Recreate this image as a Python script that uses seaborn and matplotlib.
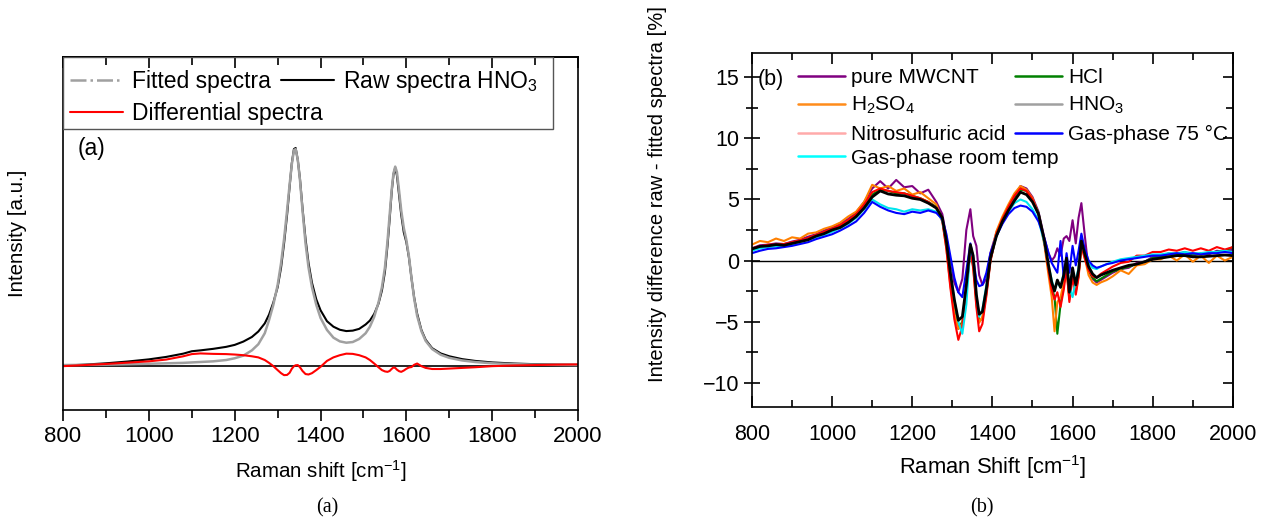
import matplotlib
matplotlib.use("Agg")
import matplotlib.pyplot as plt
from matplotlib.lines import Line2D
from matplotlib.patches import Rectangle
from matplotlib.ticker import MultipleLocator, NullLocator
import seaborn as sns

# ---- panel (a): fitted vs raw HNO3 spectrum (normalised to D band) ----
shift_a = [800, 850, 900, 950, 1000, 1040, 1080, 1100, 1120, 1150,
           1180, 1200, 1220, 1240, 1255, 1270, 1280, 1290, 1300, 1308,
           1315, 1322, 1328, 1333, 1338, 1342, 1347, 1352, 1358, 1365,
           1372, 1380, 1390, 1400, 1415, 1430, 1445, 1460, 1475, 1490,
           1505, 1515, 1525, 1535, 1543, 1550, 1556, 1561, 1566, 1570,
           1574, 1578, 1583, 1588, 1594, 1600, 1606, 1612, 1618, 1625,
           1635, 1645, 1660, 1680, 1700, 1730, 1760, 1800, 1850, 1900,
           1950, 2000]
fitted = [0.005, 0.006, 0.007, 0.009, 0.011, 0.013, 0.015, 0.017, 0.019, 0.022,
          0.028, 0.036, 0.048, 0.072, 0.10, 0.15, 0.21, 0.28, 0.37, 0.47,
          0.58, 0.71, 0.83, 0.92, 0.985, 0.99, 0.94, 0.85, 0.71, 0.56,
          0.45, 0.36, 0.28, 0.22, 0.165, 0.13, 0.113, 0.107, 0.11, 0.124,
          0.15, 0.18, 0.225, 0.29, 0.36, 0.45, 0.57, 0.69, 0.81, 0.88,
          0.91, 0.885, 0.80, 0.71, 0.63, 0.575, 0.50, 0.40, 0.31, 0.23,
          0.16, 0.115, 0.078, 0.052, 0.038, 0.026, 0.019, 0.013, 0.009, 0.007,
          0.006, 0.005]
raw_hno3 = [0.002, 0.007, 0.013, 0.021, 0.031, 0.042, 0.057, 0.068, 0.072, 0.079,
            0.088, 0.097, 0.112, 0.133, 0.158, 0.195, 0.235, 0.29, 0.36, 0.45,
            0.56, 0.69, 0.82, 0.925, 0.99, 0.995, 0.94, 0.855, 0.72, 0.58,
            0.47, 0.38, 0.305, 0.255, 0.205, 0.18, 0.166, 0.16, 0.162, 0.17,
            0.19, 0.208, 0.238, 0.285, 0.345, 0.43, 0.55, 0.67, 0.80, 0.875,
            0.905, 0.87, 0.78, 0.69, 0.61, 0.565, 0.495, 0.40, 0.315, 0.24,
            0.165, 0.12, 0.082, 0.058, 0.045, 0.032, 0.024, 0.017, 0.012, 0.009,
            0.007, 0.006]
differential = [0.0, 0.005, 0.01, 0.016, 0.022, 0.03, 0.045, 0.055, 0.058, 0.056,
                0.055, 0.053, 0.05, 0.045, 0.04, 0.028, 0.015, 0.0, -0.018, -0.032,
                -0.041, -0.04, -0.03, -0.012, 0.0, 0.004, 0.005, -0.005, -0.022, -0.036,
                -0.038, -0.032, -0.018, -0.003, 0.024, 0.04, 0.05, 0.057, 0.056, 0.05,
                0.04, 0.028, 0.012, -0.005, -0.018, -0.024, -0.026, -0.022, -0.012, -0.006,
                -0.008, -0.016, -0.023, -0.026, -0.02, -0.012, -0.006, -0.004, 0.006, 0.012,
                0.0, -0.008, -0.013, -0.013, -0.011, -0.008, -0.005, 0.0, 0.003, 0.005,
                0.007, 0.008]

# ---- panel (b): raw - fitted difference [%] per treatment ----
shift_b = [800, 820, 840, 860, 880, 900, 920, 940, 960, 980, 1000, 1020,
           1040, 1060, 1080, 1100, 1120, 1140, 1160, 1180, 1200, 1220, 1240, 1260,
           1275, 1285, 1295, 1305, 1315, 1325, 1335, 1345, 1352, 1360, 1367, 1375, 1385, 1395,
           1410, 1425, 1440, 1455, 1470, 1485, 1500, 1515, 1530,
           1540, 1548, 1555, 1562, 1570, 1578, 1585, 1592, 1600, 1608, 1615, 1622, 1630,
           1640, 1650, 1660, 1670, 1685,
           1700, 1720, 1740, 1760, 1780, 1800, 1820, 1840, 1860, 1880, 1900, 1920,
           1940, 1960, 1980, 2000]
pure_mwcnt = [1.0, 1.25, 1.3, 1.4, 1.35, 1.55, 1.7, 1.95, 2.15, 2.45, 2.7, 3.05,
              3.4, 3.95, 4.8, 5.9, 6.5, 5.9, 6.6, 6.0, 6.1, 5.5, 5.8, 4.8,
              3.8, 2.0, -0.4, -1.8, -2.6, -1.5, 2.5, 4.2, 2.0, 1.2, -1.2, -2.0, -1.5, 0.6,
              2.3, 3.4, 4.4, 5.3, 6.1, 5.9, 5.2, 4.0, 1.8,
              0.6, 0.0, 0.3, 1.0, 0.4, 1.8, 2.0, 1.6, 3.3, 1.4, 3.5, 4.7, 2.2,
              -0.8, -1.5, -1.8, -1.6, -1.3,
              -1.0, -0.7, -0.6, -0.2, -0.1, 0.3, 0.3, 0.6, 0.5, 0.7, 0.4, 0.6,
              0.5, 0.8, 0.7, 0.9]
hcl = [0.9, 1.05, 1.2, 1.3, 1.3, 1.45, 1.6, 1.8, 2.05, 2.3, 2.55, 2.85,
       3.25, 3.8, 4.5, 5.4, 5.8, 5.7, 5.5, 5.5, 5.3, 5.1, 4.8, 4.4,
       3.4, 1.3, -1.5, -4.0, -5.6, -5.0, -2.5, 1.0, 0.0, -3.2, -4.9, -4.8, -2.7, 0.0,
       2.1, 3.4, 4.3, 5.2, 5.8, 5.7, 5.0, 3.9, 1.5,
       -0.6, -2.2, -3.0, -6.0, -3.6, -2.0, -0.5, -3.0, -1.0, -2.5, -1.2, 1.4, 0.5,
       -0.8, -1.4, -1.7, -1.5, -1.2,
       -0.9, -0.7, -0.5, -0.3, -0.1, 0.2, 0.3, 0.4, 0.5, 0.5, 0.5, 0.5,
       0.6, 0.7, 0.8, 1.1]
h2so4 = [1.3, 1.6, 1.5, 1.8, 1.6, 1.9, 1.8, 2.2, 2.3, 2.6, 2.8, 3.1,
         3.6, 4.0, 4.8, 6.2, 5.9, 6.1, 5.7, 5.9, 5.4, 5.6, 5.1, 4.6,
         3.3, 1.0, -2.0, -4.3, -5.6, -5.2, -2.2, 0.9, -0.5, -3.6, -5.1, -4.6, -2.6, 0.2,
         2.4, 3.6, 4.6, 5.5, 6.1, 5.8, 5.1, 3.8, 1.2,
         -1.2, -3.0, -5.8, -3.4, -3.0, -1.8, -0.8, -3.2, -1.2, -2.6, -1.2, 1.2, 0.3,
         -1.2, -1.8, -2.0, -1.8, -1.6,
         -1.3, -0.8, -1.1, -0.4, -0.3, 0.1, 0.1, 0.4, 0.0, 0.5, -0.1, 0.4,
         -0.2, 0.4, 0.0, 0.3]
hno3 = [0.95, 1.15, 1.2, 1.3, 1.25, 1.4, 1.55, 1.7, 2.0, 2.2, 2.5, 2.7,
        3.1, 3.6, 4.3, 5.2, 5.7, 5.45, 5.35, 5.3, 5.1, 5.0, 4.7, 4.3,
        3.5, 1.6, -1.0, -3.2, -4.9, -4.6, -2.0, 1.3, 0.4, -2.8, -4.4, -4.2, -2.3, 0.2,
        2.0, 3.2, 4.1, 4.9, 5.6, 5.4, 4.8, 3.8, 1.6,
        -0.4, -1.8, -2.5, -1.6, -2.2, -1.2, 0.2, -2.6, -0.6, -2.0, -0.8, 1.6, 0.6,
        -0.5, -1.1, -1.4, -1.2, -1.0,
        -0.8, -0.6, -0.4, -0.3, -0.1, 0.1, 0.2, 0.3, 0.4, 0.4, 0.3, 0.3,
        0.35, 0.4, 0.45, 0.4]
nitrosulfuric = [1.0, 1.15, 1.3, 1.3, 1.35, 1.5, 1.65, 1.85, 2.1, 2.35, 2.6, 2.9,
                 3.3, 3.8, 4.6, 5.6, 5.9, 5.7, 5.6, 5.5, 5.3, 5.1, 4.8, 4.3,
                 3.2, 1.0, -2.2, -4.8, -6.5, -5.4, -2.4, 0.8, -0.6, -3.8, -5.8, -5.2, -2.9, -0.1,
                 2.2, 3.4, 4.4, 5.3, 5.9, 5.7, 5.0, 3.8, 1.4,
                 -0.8, -2.4, -3.2, -2.6, -3.8, -2.4, -0.6, -3.4, -1.4, -2.8, -1.4, 1.2, 0.2,
                 -0.8, -1.3, -1.4, -1.1, -0.8,
                 -0.5, -0.2, -0.1, 0.4, 0.4, 0.7, 0.7, 0.9, 0.8, 1.0, 0.8, 1.0,
                 0.8, 1.1, 0.9, 1.1]
gas_75c = [0.6, 0.8, 0.95, 1.0, 1.1, 1.2, 1.35, 1.5, 1.75, 1.95, 2.15, 2.45,
           2.8, 3.2, 3.9, 4.8, 4.4, 4.1, 3.9, 3.8, 4.0, 3.9, 4.1, 3.9,
           3.4, 2.2, 0.4, -1.4, -2.6, -3.0, -0.8, 1.4, 0.2, -1.6, -2.1, -2.0, -1.0, 0.6,
           2.0, 3.0, 3.8, 4.3, 4.5, 4.4, 4.0, 3.2, 1.8,
           0.6, -0.2, -0.6, -1.0, 1.6, -1.4, 0.6, -1.0, 1.2, -0.4, 0.8, 2.2, 1.0,
           0.0, -0.4, -0.6, -0.5, -0.3,
           -0.2, 0.0, 0.1, 0.2, 0.3, 0.4, 0.4, 0.5, 0.6, 0.5, 0.6, 0.5,
           0.6, 0.6, 0.7, 0.6]
gas_room = [0.8, 1.0, 1.1, 1.15, 1.2, 1.3, 1.5, 1.7, 1.9, 2.1, 2.35, 2.65,
            3.0, 3.5, 4.2, 5.0, 4.6, 4.3, 4.2, 4.0, 4.2, 4.1, 4.2, 4.0,
            3.3, 1.6, -0.8, -3.2, -5.0, -6.0, -3.6, 1.2, 0.3, -2.8, -4.6, -4.0, -2.0, 0.3,
            2.0, 3.1, 4.0, 4.7, 5.0, 4.8, 4.2, 3.3, 1.4,
            -0.4, -1.6, -2.4, -1.8, -2.2, -1.0, 0.0, -2.2, -3.0, -1.6, -0.6, 1.6, 0.6,
            -0.2, -0.6, -0.7, -0.5, -0.3,
            -0.1, 0.1, 0.2, 0.3, 0.4, 0.5, 0.5, 0.6, 0.6, 0.7, 0.6, 0.6,
            0.7, 0.7, 0.8, 0.7]

sns.set_theme(style="ticks")
plt.rcParams['font.family'] = ['Liberation Sans', 'DejaVu Sans']
plt.rcParams['mathtext.fontset'] = 'custom'
plt.rcParams['mathtext.rm'] = 'Liberation Sans'
plt.rcParams['mathtext.default'] = 'regular'
plt.rcParams['axes.linewidth'] = 1.2
for k in ['text.color', 'axes.labelcolor', 'xtick.color', 'ytick.color', 'axes.edgecolor']:
    plt.rcParams[k] = 'black'

fig = plt.figure(figsize=(12.61, 5.19), dpi=100)
ax1 = fig.add_axes([0.0500, 0.2100, 0.4084, 0.6802])
ax2 = fig.add_axes([0.5963, 0.2158, 0.3814, 0.6821])

# ---------- (a) ----------
ax1.axhline(0, color='black', lw=1.2, zorder=1)
sns.lineplot(x=shift_a, y=raw_hno3, ax=ax1, color='black', lw=1.5, sort=False, estimator=None)
sns.lineplot(x=shift_a, y=fitted, ax=ax1, color='#a0a0a0', lw=1.8, sort=False, estimator=None)
sns.lineplot(x=shift_a, y=differential, ax=ax1, color='#ff0000', lw=1.5, sort=False, estimator=None)

ax1.set_xlim(800, 2000)
ax1.set_ylim(-0.2, 1.41)
ax1.xaxis.set_major_locator(MultipleLocator(200))
ax1.xaxis.set_minor_locator(MultipleLocator(100))
ax1.yaxis.set_major_locator(NullLocator())
ax1.tick_params(axis='x', which='both', direction='out', labelsize=16)
ax1.tick_params(axis='x', which='major', length=8, width=1.2)
ax1.tick_params(axis='x', which='minor', length=6, width=1.2)
top1 = ax1.secondary_xaxis('top')
top1.xaxis.set_major_locator(MultipleLocator(200))
top1.xaxis.set_minor_locator(MultipleLocator(100))
top1.tick_params(which='both', direction='in', labeltop=False, width=1.2)
top1.tick_params(which='major', length=8)
top1.tick_params(which='minor', length=6)
ax1.set_xlabel('Raman shift [cm$^{-1}$]', fontsize=14.8, labelpad=8)
ax1.set_ylabel('Intensity [a.u.]', fontsize=14.8)
ax1.yaxis.set_label_coords(-0.070, 0.5)
ax1.text(0.029, 0.742, '(a)', transform=ax1.transAxes, fontsize=16.5, va='center', ha='left')

# legend box in the Origin style: frame spans the top of the panel
ax1.add_patch(Rectangle((0, 0.796), 0.951, 0.204, transform=ax1.transAxes, fill=False,
                        edgecolor='#555555', lw=1.0, zorder=5))
row1 = [Line2D([], [], color='#a0a0a0', lw=1.8, ls='-.'), Line2D([], [], color='black', lw=1.5)]
leg1 = ax1.legend(row1, ['Fitted spectra', 'Raw spectra HNO$_3$'], ncol=2, loc='center left',
                  bbox_to_anchor=(0.0136, 0.929), frameon=False, fontsize=16.5,
                  borderpad=0, borderaxespad=0, handlelength=2.3, handletextpad=0.4,
                  columnspacing=0.45)
ax1.add_artist(leg1)
ax1.legend([Line2D([], [], color='#ff0000', lw=1.5)], ['Differential spectra'], loc='center left',
           bbox_to_anchor=(0.0136, 0.841), frameon=False, fontsize=16.5,
           borderpad=0, borderaxespad=0, handlelength=2.3, handletextpad=0.4)

# ---------- (b) ----------
series_b = [
    (pure_mwcnt, '#800080', 1.5),
    (hcl, '#008000', 1.5),
    (h2so4, '#ff8000', 1.5),
    (nitrosulfuric, '#ff0000', 1.5),
    (gas_room, '#00e5ee', 1.5),
    (gas_75c, '#0000ff', 1.5),
    (hno3, 'black', 2.0),
]
ax2.axhline(0, color='black', lw=1.0, zorder=1)
for vals, col, lw in series_b:
    sns.lineplot(x=shift_b, y=vals, ax=ax2, color=col, lw=lw, sort=False, estimator=None)

ax2.set_xlim(800, 2000)
ax2.set_ylim(-12, 17)
ax2.xaxis.set_major_locator(MultipleLocator(200))
ax2.xaxis.set_minor_locator(MultipleLocator(100))
ax2.yaxis.set_major_locator(MultipleLocator(5))
ax2.yaxis.set_minor_locator(MultipleLocator(2.5))
ax2.tick_params(axis='x', which='both', direction='in', top=True, labelsize=15.5, width=1.2, pad=12)
ax2.tick_params(axis='x', which='major', length=8)
ax2.tick_params(axis='x', which='minor', length=5)
ax2.tick_params(axis='y', which='both', direction='inout', labelsize=15.5, width=1.2)
ax2.tick_params(axis='y', which='major', length=11)
ax2.tick_params(axis='y', which='minor', length=8)
right2 = ax2.secondary_yaxis('right')
right2.yaxis.set_major_locator(MultipleLocator(5))
right2.yaxis.set_minor_locator(MultipleLocator(2.5))
right2.tick_params(which='both', direction='in', labelright=False, width=1.2)
right2.tick_params(which='major', length=7)
right2.tick_params(which='minor', length=5)
ax2.set_xlabel('Raman Shift [cm$^{-1}$]', fontsize=15.8, labelpad=6)
ax2.set_ylabel('Intensity difference raw - fitted spectra [%]', fontsize=14.5)
ax2.yaxis.set_label_coords(-0.177, 0.602)
ax2.text(0.0125, 0.924, '(b)', transform=ax2.transAxes, fontsize=15.5, va='center', ha='left')

# legend colours as in the original figure; first three rows in two columns
leg_entries = [
    ('pure MWCNT', '#800080'),
    ('H$_2$SO$_4$', '#ff8c1a'),
    ('Nitrosulfuric acid', '#ffaaaa'),
    ('HCl', '#008000'),
    ('HNO$_3$', '#a0a0a0'),
    ('Gas-phase 75 °C', '#0000ff'),
]
handles = [Line2D([], [], color=c, lw=1.8) for _, c in leg_entries]
leg2 = ax2.legend(handles, [l for l, _ in leg_entries], ncol=2, loc='upper left',
                  bbox_to_anchor=(0.0956, 0.958), frameon=False, fontsize=15,
                  borderpad=0, borderaxespad=0, handlelength=2.25, handletextpad=0.3,
                  columnspacing=0.45, labelspacing=0.4)
ax2.add_artist(leg2)
ax2.legend([Line2D([], [], color='#00ffff', lw=1.8)], ['Gas-phase room temp'], loc='center left',
           bbox_to_anchor=(0.0956, 0.703), frameon=False, fontsize=15,
           borderpad=0, borderaxespad=0, handlelength=2.25, handletextpad=0.3)

for ax in (ax1, ax2):
    for s in ax.spines.values():
        s.set_color('black')
        s.set_linewidth(1.2)

fig.text(327 / 1261, 1 - 508 / 519, '(a)', family=['Liberation Serif', 'DejaVu Serif'],
         fontsize=14.5, ha='center', va='center')
fig.text(982 / 1261, 1 - 508 / 519, '(b)', family=['Liberation Serif', 'DejaVu Serif'],
         fontsize=14.5, ha='center', va='center')

fig.savefig('out.png', dpi=100)
